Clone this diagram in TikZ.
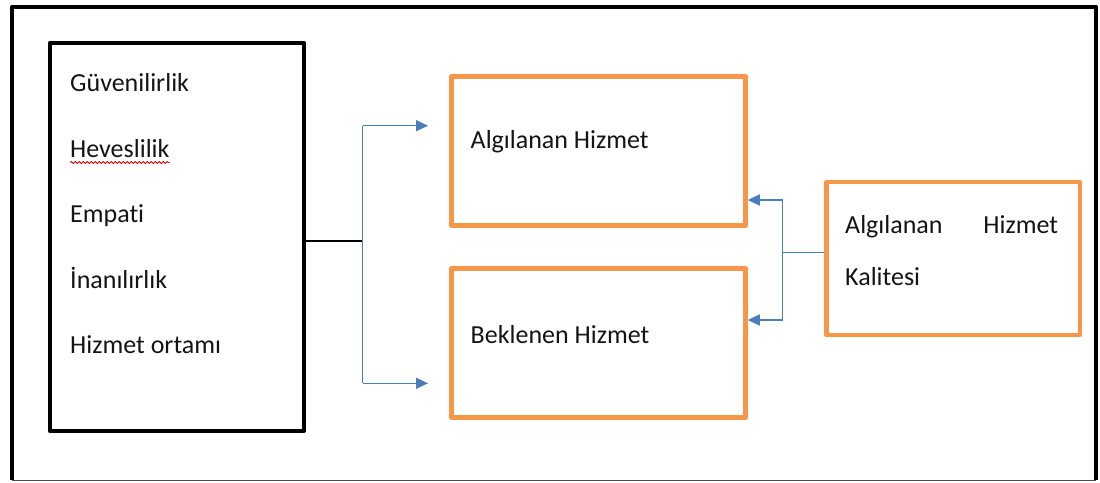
\documentclass[tikz,border=0pt]{standalone}
\usepackage{fontspec}
\setmainfont[Ligatures=NoCommon]{Carlito}
\usetikzlibrary{arrows.meta,decorations.pathmorphing}

\definecolor{accentorange}{HTML}{F79646}
\definecolor{linkblue}{HTML}{4A7EBB}
\definecolor{textgray}{HTML}{141414}

\tikzset{
  blackbox/.style={draw=black, line width=4.5pt, line join=round, inner sep=0pt},
  orangebox/.style={draw=accentorange, line width=4.5pt, line join=round, inner sep=0pt,
                    minimum width=294pt, minimum height=149pt},
  txt/.style={anchor=base west, inner sep=0pt, text=textgray,
              font=\fontsize{26}{30}\selectfont},
  bluelink/.style={draw=linkblue, line width=1.5pt},
  bluearrow/.style={bluelink, -{Triangle[length=12pt,width=11pt]}},
  blacklink/.style={draw=black, line width=1.5pt},
  squiggle/.style={draw=red!85!black, line width=0.8pt,
                   decorate, decoration={snake, amplitude=1pt, segment length=4pt}}
}

\begin{document}
\begin{tikzpicture}[x=1pt, y=-1pt]
\useasboundingbox (0,0) rectangle (1100,482);

% outer frame
\draw[line width=4.5pt, line join=round] (1096,480) -- (1096,7) -- (12,7) -- (12,480);
\draw[line width=1pt, black!70] (12,480) -- (1096,480);

% list of dimensions
\node[blackbox, minimum width=254pt, minimum height=388pt] (factors) at (177,237) {};
\node[txt] (f1) at (70,91.5)  {Güvenilirlik};
\node[txt] (f2) at (70,157)   {Heveslilik};
\node[txt] (f3) at (70,222.5) {Empati};
\node[txt] (f4) at (70,288)   {İnanılırlık};
\node[txt] (f5) at (70,353)   {Hizmet ortamı};
\draw[squiggle] (f2.south west |- 0,162.5) -- (f2.south east |- 0,162.5);

% perceived and expected service
\node[orangebox] (perceived) at (598.5,151) {};
\node[txt] (perceivedtxt) at (470.5,148) {Algılanan Hizmet};
\node[orangebox] (expected) at (598.5,343) {};
\node[txt] (expectedtxt) at (470.5,343) {Beklenen Hizmet};

% perceived service quality
\node[draw=accentorange, line width=4.5pt, line join=round, inner sep=0pt,
      minimum width=253.5pt, minimum height=153pt] (quality) at (953.25,258.5) {};
\node[txt, text width=213pt] (q1) at (845,233) {Algılanan\hfill Hizmet};
\node[txt] (q2) at (845,285) {Kalitesi};

% left fork
\coordinate (lhub) at (362.7,241);
\coordinate (ltop) at (362.7,125.7);
\coordinate (lbot) at (362.7,383.3);
\coordinate (ltopend) at (428,125.7);
\coordinate (lbotend) at (428,383.3);
\draw[blacklink] (factors.east |- lhub) -- (lhub);
\draw[bluelink] (ltop) -- (lbot);
\draw[bluearrow] (ltop) -- (ltopend);
\draw[bluearrow] (lbot) -- (lbotend);

% right fork
\coordinate (rhub) at (782.7,252.7);
\coordinate (rtop) at (782.7,200);
\coordinate (rbot) at (782.7,320);
\draw[bluelink] (quality.west |- rhub) -- (rhub);
\draw[bluelink] (rtop) -- (rbot);
\draw[bluearrow] (rtop) -- (perceived.east |- rtop);
\draw[bluearrow] (rbot) -- (expected.east |- rbot);
\end{tikzpicture}
\end{document}
